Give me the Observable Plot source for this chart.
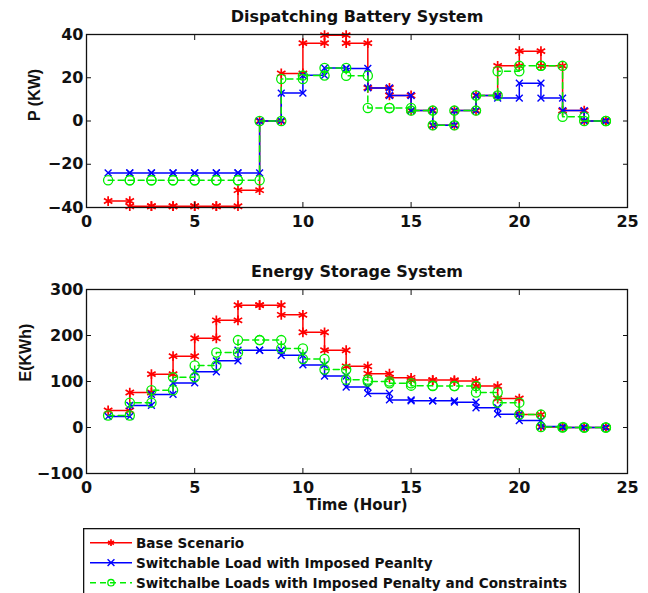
<!DOCTYPE html>
<html><head><meta charset="utf-8">
<script src="https://cdn.jsdelivr.net/npm/d3@7"></script>
<script src="https://cdn.jsdelivr.net/npm/@observablehq/plot@0.6"></script>
<style>
html,body{margin:0;padding:0;background:#fff;overflow:hidden;}
#wrap{position:relative;width:648px;height:593px;overflow:hidden;background:#fff;}
.plot{position:absolute;left:0;}
#legend{position:absolute;left:83px;top:528px;width:497px;height:72px;}
</style></head><body>
<div id="wrap">
  <div id="p1" class="plot" style="top:0px"></div>
  <div id="p2" class="plot" style="top:240px"></div>
  <div id="legend"></div>
</div>
<script>
// ---- data ----
const hours = [1,2,3,4,5,6,7,8,9,10,11,12,13,14,15,16,17,18,19,20,21,22,23,24];
const seriesNames = ["Base Scenario", "Switchable Load with Imposed Peanlty", "Switchalbe Loads with Imposed Penalty and Constraints"];
const seriesColors = ["#ff0000", "#0000ff", "#00ee00"];

// Dispatching Battery System, P (KW)
const P_base   = [-37, -39.4, -39.4, -39.4, -39.4, -39.4, -32, 0, 22, 36, 39.7, 36, 15.3, 11.8, 4.8, -2, 4.8, 11.8, 25.5, 32.3, 25.5, 4.8, 0, 0];
const P_switch = [-24, -24, -24, -24, -24, -24, -24, 0, 12.9, 21.1, 24.5, 24.3, 15.3, 11.8, 4.8, -2, 4.8, 11.8, 10.6, 17.5, 10.6, 4.8, 0, 0];
const P_constr = [-27.4, -27.4, -27.4, -27.4, -27.4, -27.4, -27.4, 0, 19.4, 21, 24.5, 20.9, 6, 6, 4.8, -2, 4.8, 11.8, 23, 25.5, 25.5, 2, 0, 0];

// Energy Storage System, E(KWh)
const E_base   = [37, 76, 116, 155, 194, 233, 266, 266, 245, 207, 168, 133, 117, 108, 103, 103, 101, 90, 63, 28, 1, 0, 0, 0];
const E_switch = [24, 48, 72, 97, 121, 145, 168, 168, 157, 136, 112, 88, 74, 60, 58, 58, 55, 43, 29, 15, 2, 0, 0, 0];
const E_constr = [26, 54, 81, 109, 135, 163, 190, 190, 172, 149, 126, 104, 100, 96, 91, 90, 90, 76, 54, 28, 1, 0, 0, 0];

const xTicks = [0, 5, 10, 15, 20, 25];
const pTicks = [-40, -20, 0, 20, 40];
const eTicks = [-100, 0, 100, 200, 300];

// ---- styling ----
const seriesStyle = [
  {symbol: "asterisk", r: 4.6, sw: 1.7, dash: null},
  {symbol: "times", r: 3.2, sw: 1.4, dash: null},
  {symbol: "circle", r: 4.6, sw: 1.3, dash: "6,4"}
];
const fmt = d => d < 0 ? "\u2212" + Math.abs(d) : String(d);

function stairsPlot({values, yDomain, yTicks, yLabel, yLabelDx, title, height, marginTop, marginBottom, xLabel}) {
  const marks = [];
  values.forEach((vals, i) => {
    const st = seriesStyle[i];
    const data = hours.map((h, j) => ({x: h, y: vals[j]}));
    const verts = [];
    hours.forEach((h, j) => {
      if (j > 0) verts.push({x: h, y: vals[j - 1]});
      verts.push({x: h, y: vals[j]});
    });
    marks.push(Plot.line(data, {x: "x", y: "y", curve: "step-after", stroke: seriesColors[i], strokeWidth: 1.5, strokeDasharray: st.dash}));
    marks.push(Plot.dot(verts, {x: "x", y: "y", symbol: st.symbol, r: st.r, stroke: seriesColors[i], strokeWidth: st.sw, fill: "none"}));
  });
  marks.push(Plot.frame({stroke: "#111", strokeWidth: 1.3}));
  marks.push(Plot.axisX(xTicks, {anchor: "bottom", tickSize: -5, tickPadding: 13, tickFormat: fmt, label: null}));
  marks.push(Plot.axisX(xTicks, {anchor: "top", tickSize: -5, tickFormat: () => "", label: null}));
  marks.push(Plot.axisY(yTicks, {anchor: "left", tickSize: -5, tickPadding: 8, tickFormat: fmt, label: null}));
  marks.push(Plot.axisY(yTicks, {anchor: "right", tickSize: -5, tickFormat: () => "", label: null}));
  marks.push(Plot.text([title], {text: d => d, frameAnchor: "top", dy: -24, fontSize: 16, fontWeight: "bold"}));
  marks.push(Plot.text([yLabel], {text: d => d, frameAnchor: "left", dx: yLabelDx, rotate: -90, fontSize: 16, fontWeight: "bold", fontFamily: "'Liberation Sans', Arial, sans-serif"}));
  if (xLabel) marks.push(Plot.text([xLabel], {text: d => d, frameAnchor: "bottom", dy: 36, fontSize: 15, fontWeight: "bold"}));
  return Plot.plot({
    width: 648, height, marginLeft: 86, marginRight: 21, marginTop, marginBottom,
    x: {domain: [0, 25]},
    y: {domain: yDomain},
    style: {fontFamily: "'DejaVu Sans', sans-serif", fontWeight: "bold", fontSize: "16px", color: "#111", background: "white", overflow: "visible"},
    marks
  });
}

document.getElementById("p1").appendChild(stairsPlot({
  values: [P_base, P_switch, P_constr], yDomain: [-40, 40], yTicks: pTicks,
  yLabel: "P (KW)", yLabelDx: -52, title: "Dispatching Battery System",
  height: 240, marginTop: 34, marginBottom: 33
}));
document.getElementById("p2").appendChild(stairsPlot({
  values: [E_base, E_switch, E_constr], yDomain: [-100, 300], yTicks: eTicks,
  yLabel: "E(KWh)", yLabelDx: -61, title: "Energy Storage System",
  height: 280, marginTop: 49, marginBottom: 47, xLabel: "Time (Hour)"
}));

// ---- legend ----
const lsvg = d3.select("#legend").append("svg").attr("width", 497).attr("height", 72)
  .style("font-family", "'DejaVu Sans', sans-serif").style("font-weight", "bold").style("font-size", "13.6px");
lsvg.append("rect").attr("x", 0.65).attr("y", 0.65).attr("width", 495.7).attr("height", 80)
  .attr("fill", "white").attr("stroke", "#111").attr("stroke-width", 1.3);
const legSym = [d3.symbolAsterisk, d3.symbolTimes, d3.symbolCircle];
seriesNames.forEach((name, i) => {
  const y = 14.7 + i * 20;
  const st = seriesStyle[i];
  lsvg.append("line").attr("x1", 7).attr("x2", 49).attr("y1", y).attr("y2", y)
    .attr("stroke", seriesColors[i]).attr("stroke-width", 1.4).attr("stroke-dasharray", st.dash);
  lsvg.append("path").attr("transform", `translate(28,${y})`)
    .attr("d", d3.symbol(legSym[i], Math.PI * 3.2 * 3.2)())
    .attr("fill", "none").attr("stroke", seriesColors[i]).attr("stroke-width", st.sw);
  lsvg.append("text").attr("x", 53).attr("y", y + 4.9).attr("fill", "#111").text(name);
});
</script>
</body></html>
